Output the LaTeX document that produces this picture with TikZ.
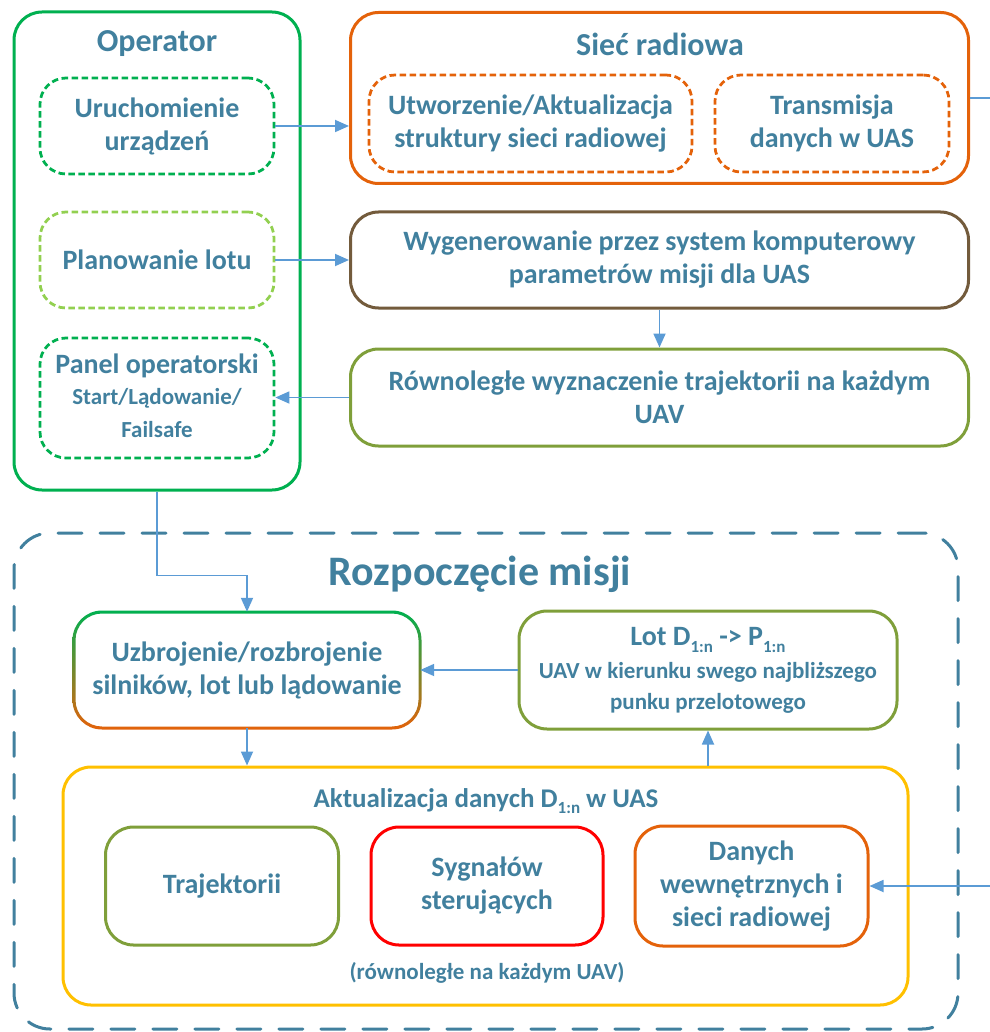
\documentclass[tikz,border=0pt]{standalone}
\usepackage{fontspec}
\setmainfont{Carlito}
\usetikzlibrary{arrows.meta,calc}

\definecolor{txt}{HTML}{41809E}
\definecolor{arr}{HTML}{5B9BD5}
\definecolor{cgreen}{HTML}{00B050}
\definecolor{clight}{HTML}{92D050}
\definecolor{corange}{HTML}{E4620A}
\definecolor{cbrown}{HTML}{735B3C}
\definecolor{colive}{HTML}{7F9F3A}
\definecolor{cred}{HTML}{FF0000}
\definecolor{cyellow}{HTML}{FFC000}

% index set low and small, as in D_{1:n}
\newcommand\lowidx[1]{\raisebox{-0.25em}{\fontsize{17}{17}\selectfont #1}}

\tikzset{
  box/.style={draw, rounded corners=28pt, line width=3pt, inner sep=0pt},
  dbox/.style={box, line width=2.75pt, dash pattern=on 6.5pt off 3.5pt, rounded corners=26pt},
  lbl/.style={text=txt, font=\bfseries\fontsize{28}{33}\selectfont, align=center},
  slbl/.style={text=txt, font=\bfseries\fontsize{23}{31}\selectfont, align=center},
  head/.style={text=txt, font=\bfseries\fontsize{32}{36}\selectfont},
  conn/.style={draw=arr, line width=1.8pt, -{Triangle[length=14pt,width=12pt]}},
}

\begin{document}
\begin{tikzpicture}[x=1pt,y=-1pt]
\useasboundingbox (0,0) rectangle (989,1032);

% ---- Operator ----
\node[box, draw=cgreen, minimum width=286pt, minimum height=478pt] (op) at (157,251) {};
\node[head] (opT) at (157,44) {Operator};
\node[dbox, draw=cgreen, lbl, minimum width=234pt, minimum height=96pt] (uru) at (157,126) {Uruchomienie\\urządzeń};
\node[dbox, draw=clight, lbl, minimum width=234pt, minimum height=96pt] (pla) at (157,260) {Planowanie lotu};
\node[dbox, draw=cgreen, minimum width=234pt, minimum height=120pt] (pan) at (157,398) {};
\node[lbl] (panA) at (157,366) {Panel operatorski};
\node[slbl] (panB) at (157,398) {Start/Lądowanie/};
\node[slbl] (panC) at (157,430) {Failsafe};

% ---- Sieć radiowa ----
\node[box, draw=corange, minimum width=618pt, minimum height=171pt] (sie) at (659.5,98) {};
\node[head] (sieT) at (660,44) {Sieć radiowa};
\node[dbox, draw=corange, lbl, minimum width=323pt, minimum height=97pt] (utw) at (530.5,123.5) {Utworzenie/Aktualizacja\\struktury sieci radiowej};
\node[dbox, draw=corange, lbl, minimum width=234pt, minimum height=97pt] (tra) at (832,123.5) {Transmisja\\danych w UAS};

% ---- parametry i trajektorie ----
\node[box, draw=cbrown, lbl, minimum width=618pt, minimum height=96pt] (wyg) at (659.5,260) {Wygenerowanie przez system komputerowy\\parametrów misji dla UAS};
\node[box, draw=colive, lbl, minimum width=618pt, minimum height=97pt] (row) at (659.5,397.5) {Równoległe wyznaczenie trajektorii na każdym\\UAV};

% ---- Rozpoczęcie misji ----
\node[draw=txt, line width=3pt, dash pattern=on 24pt off 18pt, line cap=round, rounded corners=36pt, minimum width=944pt, minimum height=496pt] (mis) at (486,781) {};
\node[text=txt, font=\bfseries\fontsize{42}{46}\selectfont] (misT) at (480,574) {Rozpoczęcie misji};

% arming box with a green-to-orange border
\path[top color=cgreen, bottom color=corange, even odd rule]
  [rounded corners=29.5pt] (72.5,610.5) rectangle (421.5,729.5)
  [rounded corners=26.5pt] (75.5,613.5) rectangle (418.5,726.5);
\node[lbl, minimum width=346pt, minimum height=116pt] (uzb) at (247,670) {Uzbrojenie/rozbrojenie\\silników, lot lub lądowanie};

\node[box, draw=colive, minimum width=378pt, minimum height=118pt] (lot) at (708,670) {};
\node[lbl] (lotA) at (708,640) {Lot D\lowidx{1:n} -> P\lowidx{1:n}};
\node[slbl] (lotB) at (708,672) {UAV w kierunku swego najbliższego};
\node[slbl] (lotC) at (708,703) {punku przelotowego};

% ---- Aktualizacja danych ----
\node[box, draw=cyellow, minimum width=845pt, minimum height=238pt] (akt) at (485.5,886) {};
\node[lbl, font=\bfseries\fontsize{27}{33}\selectfont] (aktT) at (486,801) {Aktualizacja danych D\lowidx{1:n} w UAS};
\node[box, draw=colive, lbl, minimum width=233pt, minimum height=118pt] (trj) at (222,886) {Trajektorii};
\node[box, draw=cred, lbl, minimum width=232pt, minimum height=118pt] (syg) at (487,886) {Sygnałów\\sterujących};
\node[box, draw=corange, lbl, minimum width=233pt, minimum height=120pt] (dan) at (751.5,886) {Danych\\wewnętrznych i\\sieci radiowej};
\node[slbl] (aktC) at (487,973) {(równoległe na każdym UAV)};

% ---- connectors ----
\draw[conn] (uru.east) -- (uru.east -| sie.west);
\draw[conn] (pla.east) -- (pla.east -| wyg.west);
\draw[conn] (wyg.south) -- (row.north);
\draw[conn] (row.west) -- (row.west -| pan.east);
\draw[conn] (op.south) -- ++(0,84) -| (uzb.north);
\draw[conn] (lot.west) -- (uzb.east);
\draw[conn] (uzb.south) -- (uzb.south |- akt.north);
\draw[conn] (lot.south |- akt.north) -- (lot.south);
\draw[conn] (sie.east) -- ++(40,0) |- (dan.east);
\end{tikzpicture}
\end{document}
